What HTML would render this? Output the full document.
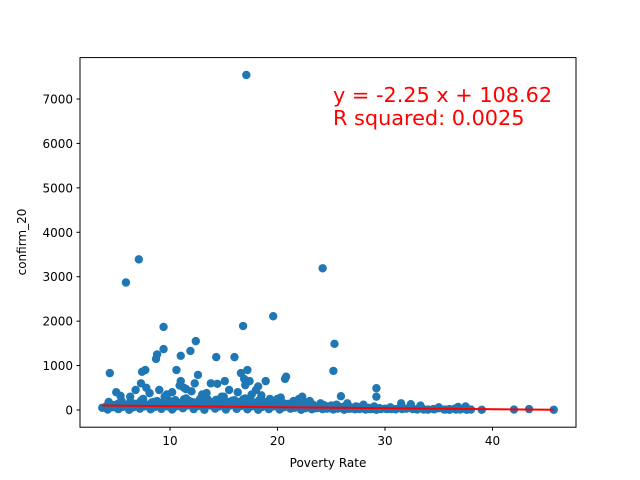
<!DOCTYPE html>
<html><head><meta charset="utf-8"><style>
body{margin:0;background:#fff;}
svg{display:block;font-family:"DejaVu Sans","Liberation Sans",sans-serif;}
</style></head><body>
<svg id="chart" width="640" height="480">
<rect width="640" height="480" fill="#fff"/>
<g id="points"></g>
<g id="fit"></g>
<rect x="80" y="57.6" width="496" height="369.6" fill="none" stroke="#000" stroke-width="1"/>
<g id="xticks"></g>
<g id="yticks"></g>
<text x="328" y="467" text-anchor="middle" font-size="12">Poverty Rate</text>
<text transform="translate(26,242) rotate(-90)" text-anchor="middle" font-size="12">confirm_20</text>
<text x="333" y="102" font-size="20.8" fill="red">y = -2.25 x + 108.62</text>
<text x="333" y="125" font-size="20.8" fill="red">R squared: 0.0025</text>
</svg>
<script>
const outX=[17.1,7.1,5.9,24.2,19.6,9.4,16.8,12.4,25.3,9.4,11.9,8.8,8.7,11.0,14.3,16.0,4.4,7.7,7.4,10.6,12.6,20.8,20.7,25.2,17.2,16.6,18.9,29.2,29.2,25.9,15.1,11.0,13.8,14.4,18.2,17.0,9.0,6.8,5.0,7.3,7.8,11.5,12.3,10.2,13.0,14.8,16.3,17.6,18.5,19.3,21.5,22.3,23.0,26.5,28.0,31.5,32.4,33.3,35.0,36.8,37.5,42.0,43.4,45.7,10.9,11.3,12.0,13.4,15.5,8.1,6.3,5.4,9.7,16.9,17.4,18.0,20.3,22.0];
const outY=[7540,3390,2870,3190,2110,1870,1890,1550,1490,1370,1330,1250,1150,1220,1190,1190,830,900,860,900,790,750,700,880,900,830,650,490,300,310,650,650,600,590,530,560,450,450,400,600,500,470,600,400,350,300,400,350,330,250,200,300,200,150,120,150,130,100,60,70,80,10,20,5,550,500,420,380,450,380,300,320,350,700,650,450,280,250];
const bandX=[4,4.5,5,5.5,6,6.5,7,7.5,8,8.5,9,9.5,10,10.5,11,11.5,12,12.5,13,13.5,14,14.5,15,15.5,16,16.5,17,17.5,18,18.5,19,19.5,20,20.5,21,21.5,22,22.5,23,23.5,24,24.5,25,25.5,26,26.5,27,27.5,28,28.5,29,29.5,30,30.5,31,31.5,32,32.5,33,33.5,34,34.5,35,35.5,36,36.5,37,37.5,38];
const bandY=[60,120,50,200,80,150,100,250,90,180,120,300,150,220,100,260,180,140,200,240,160,120,300,180,220,140,260,200,150,230,180,120,250,160,140,200,90,180,120,60,150,80,100,120,60,90,40,70,30,50,80,40,30,60,20,50,30,40,20,30,10,20,40,10,20,30,10,20,10];
const midX=[4.3,4.8,5.3,5.8,6.3,6.8,7.3,7.8,8.3,8.8,9.3,9.8,10.3,10.8,11.3,11.8,12.3,12.8,13.3,13.8,14.3,14.8,15.3,15.8,16.3,16.8,17.3,17.8,18.3,18.8,19.3,19.8,20.3,20.8,21.3,21.8,22.3,22.8,23.3,23.8,24.3,24.8,25.3,25.8,26.3,26.8,27.3,27.8];
const midY=[180,90,160,110,190,140,210,120,170,200,150,230,190,160,240,200,170,250,210,180,230,190,160,210,180,240,200,170,220,150,190,140,170,120,150,110,130,100,120,90,110,80,100,70,90,60,80,50];
const fillX=[4.1,4.6,5.1,5.6,6.1,6.6,7.1,7.6,8.1,8.6,9.1,9.6,10.1,10.6,11.1,11.6,12.1,12.6,13.1,13.6,14.1,14.6,15.1,15.6,16.1,16.6,17.1,17.6,18.1,18.6,19.1,19.6,20.1,20.6,21.1,21.6,22.1,22.6,23.1,23.6,24.1,24.6,25.1,25.6,26.1,26.6,27.1,27.6,28.1,28.6,29.1,29.6,30.6,31.6,32.6,33.6,34.6,35.6,36.6,37.6];
const fillY=[90,60,130,70,110,60,150,80,120,70,160,90,120,80,140,100,130,90,150,110,120,80,140,100,110,90,130,80,120,70,100,80,90,60,80,50,70,40,60,40,60,30,50,30,40,30,40,20,30,20,30,20,20,20,20,10,15,10,10,5];
const lowX=[3.7,4.2,5.2,6.2,7.2,8.2,9.2,10.2,11.2,12.2,13.2,14.2,15.2,16.2,17.2,18.2,19.2,20.2,21.2,22.2,23.2,24.2,25.2,26.2,27.2,28.2,29.2,30.2,4.8,5.8,6.8,7.8,8.8,9.8,10.8,11.8,12.8,13.8,14.8,15.8,16.8,17.8,18.8,19.8,20.8,21.8,22.8,23.8,24.8,26.8,28.8,31.0,33.0,34.0,36.0,39.0];
const lowY=[50,10,20,5,30,15,25,10,40,20,5,30,10,25,15,5,20,10,30,5,15,20,10,5,15,10,5,20,110,90,130,100,120,80,140,110,90,100,120,130,110,150,100,90,80,70,60,50,40,30,20,15,10,10,5,5];
const xTicks=[10,20,30,40];
const yTicks=[0,1000,2000,3000,4000,5000,6000,7000];
const slope=-2.25, intercept=108.62, fitMin=3.65, fitMax=45.7;

const sx=v=>62.5+v*10.75;
const sy=v=>410-v*311/7000;
const NS="http://www.w3.org/2000/svg";
const pg=document.getElementById('points');
function dot(x,y){
  const c=document.createElementNS(NS,'circle');
  c.setAttribute('cx',sx(x));c.setAttribute('cy',sy(y));c.setAttribute('r',4.2);
  c.setAttribute('fill','#1f77b4');
  
  
  pg.appendChild(c);
}
lowX.forEach((x,i)=>dot(x,lowY[i]));
fillX.forEach((x,i)=>dot(x,fillY[i]));
midX.forEach((x,i)=>dot(x,midY[i]));
bandX.forEach((x,i)=>dot(x,bandY[i]));
outX.forEach((x,i)=>dot(x,outY[i]));
const l=document.createElementNS(NS,'line');
l.setAttribute('x1',sx(fitMin));l.setAttribute('y1',sy(slope*fitMin+intercept));
l.setAttribute('x2',sx(fitMax));l.setAttribute('y2',sy(slope*fitMax+intercept));
l.setAttribute('stroke','red');l.setAttribute('stroke-width',2);


document.getElementById('fit').appendChild(l);
const xg=document.getElementById('xticks');
xTicks.forEach(t=>{
  const x=sx(t);
  const tk=document.createElementNS(NS,'line');
  tk.setAttribute('x1',x);tk.setAttribute('x2',x);tk.setAttribute('y1',427.2);tk.setAttribute('y2',430.7);tk.setAttribute('stroke','#000');
  
  
  xg.appendChild(tk);
  const tx=document.createElementNS(NS,'text');
  tx.setAttribute('x',x);tx.setAttribute('y',445);tx.setAttribute('text-anchor','middle');tx.setAttribute('font-size','12');
  tx.textContent=t;
  
  
  xg.appendChild(tx);
});
const yg=document.getElementById('yticks');
yTicks.forEach(t=>{
  const y=sy(t);
  const tk=document.createElementNS(NS,'line');
  tk.setAttribute('x1',76.5);tk.setAttribute('x2',80);tk.setAttribute('y1',y);tk.setAttribute('y2',y);tk.setAttribute('stroke','#000');
  
  
  yg.appendChild(tk);
  const tx=document.createElementNS(NS,'text');
  tx.setAttribute('x',73);tx.setAttribute('y',y+4.5);tx.setAttribute('text-anchor','end');tx.setAttribute('font-size','12');
  tx.textContent=t;
  
  
  yg.appendChild(tx);
});
</script>
</body></html>
